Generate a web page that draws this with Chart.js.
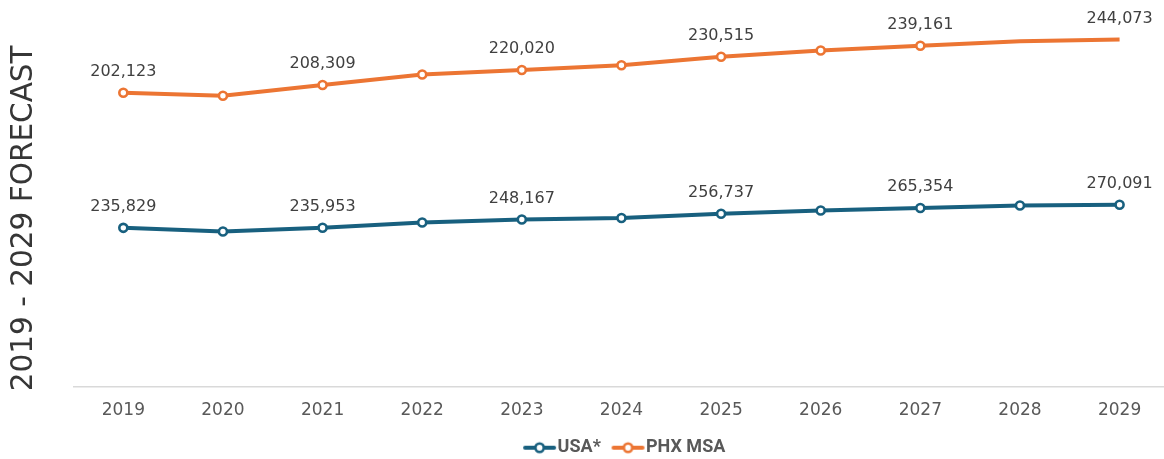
<!DOCTYPE html>
<html>
<head>
<meta charset="utf-8">
<script src="https://cdn.jsdelivr.net/npm/chart.js@4"></script>
<style>
  html, body { margin: 0; padding: 0; background: #ffffff; overflow: hidden; }
  #wrap { width: 1176px; height: 459px; }
</style>
</head>
<body>
<div id="wrap"><canvas id="c" width="1176" height="459"></canvas></div>
<script>
// ---- data ----
const years = ['2019','2020','2021','2022','2023','2024','2025','2026','2027','2028','2029'];
const usaValues = [235829, 230500, 235953, 243800, 248167, 250500, 256737, 261500, 265354, 269000, 270091];
const phxValues = [202123, 199800, 208309, 216500, 220020, 223800, 230515, 235400, 239161, 242600, 244073];
const labelledYears = ['2019','2021','2023','2025','2027','2029'];
const seriesNames = ['USA*', 'PHX MSA'];
const axisTitle = '2019 - 2029 FORECAST';

const BLUE = '#18607F';
const ORANGE = '#EC7533';

// legend marker: a short line with an open circle, offset inside the image
function legendMarker(color) {
  const c = document.createElement('canvas');
  c.width = 48; c.height = 14;
  const g = c.getContext('2d');
  g.strokeStyle = color; g.lineWidth = 4; g.lineCap = 'round';
  g.beginPath(); g.moveTo(16, 7); g.lineTo(45, 7); g.stroke();
  g.beginPath(); g.arc(30.5, 7, 4.2, 0, Math.PI * 2);
  g.fillStyle = '#ffffff'; g.fill();
  g.lineWidth = 2.6; g.stroke();
  return c;
}
const markers = [legendMarker(BLUE), legendMarker(ORANGE)];

const valueLabels = {
  id: 'valueLabels',
  afterDatasetsDraw(chart) {
    const ctx = chart.ctx;
    ctx.save();
    ctx.font = '16px "DejaVu Sans", sans-serif';
    ctx.fillStyle = '#404040';
    ctx.textAlign = 'center';
    ctx.textBaseline = 'middle';
    chart.data.datasets.forEach((ds, di) => {
      const meta = chart.getDatasetMeta(di);
      meta.data.forEach((pt, i) => {
        if (!labelledYears.includes(chart.data.labels[i])) return;
        ctx.fillText(ds.data[i].toLocaleString('en-US'), pt.x, pt.y - 21);
      });
    });
    ctx.restore();
  }
};

new Chart(document.getElementById('c'), {
  type: 'line',
  data: {
    labels: years,
    datasets: [
      {
        label: seriesNames[0], data: usaValues, yAxisID: 'yUsa',
        borderColor: BLUE, backgroundColor: BLUE, borderWidth: 4,
        pointRadius: 4, pointHoverRadius: 4, pointBorderWidth: 2.6,
        pointBackgroundColor: '#ffffff', pointBorderColor: BLUE,
        tension: 0, clip: false
      },
      {
        label: seriesNames[1], data: phxValues, yAxisID: 'yPhx',
        borderColor: ORANGE, backgroundColor: ORANGE, borderWidth: 4,
        pointRadius: 4, pointHoverRadius: 4, pointBorderWidth: 2.6,
        pointBackgroundColor: '#ffffff', pointBorderColor: ORANGE,
        tension: 0, clip: false
      }
    ]
  },
  options: {
    responsive: false,
    animation: false,
    devicePixelRatio: 1,
    layout: { padding: { top: 49.5, right: 6, left: 0, bottom: -7.7 } },
    scales: {
      x: {
        type: 'category',
        offset: true,
        grid: { display: false, drawTicks: false },
        border: { display: true, color: '#d9d9d9', width: 1.5 },
        ticks: { color: '#595959', padding: 13, font: { family: '"DejaVu Sans", sans-serif', size: 17 } }
      },
      yPhx: {
        position: 'left',
        min: -29400, max: 236200,
        grid: { display: false, drawTicks: false },
        border: { display: false },
        ticks: { display: false },
        title: {
          display: true, text: axisTitle, color: '#363636',
          font: { family: '"DejaVu Sans", sans-serif', size: 29.5, lineHeight: 1.2 },
          padding: { top: 6.5, bottom: 31.6 }
        }
      },
      yUsa: {
        display: false,
        position: 'left',
        min: 0, max: 500000
      }
    },
    plugins: {
      tooltip: { enabled: false },
      legend: {
        position: 'bottom',
        fullSize: false,
        labels: {
          usePointStyle: true,
          pointStyleWidth: 31,
          padding: 5.2,
          color: '#595959',
          font: { family: 'Roboto, "Liberation Sans", sans-serif', size: 18, weight: 'bold' },
          generateLabels(chart) {
            const items = Chart.defaults.plugins.legend.labels.generateLabels(chart);
            items.forEach((it, i) => { it.pointStyle = markers[i]; it.fontColor = '#595959'; });
            return items;
          }
        }
      }
    }
  },
  plugins: [valueLabels]
});
</script>
</body>
</html>
